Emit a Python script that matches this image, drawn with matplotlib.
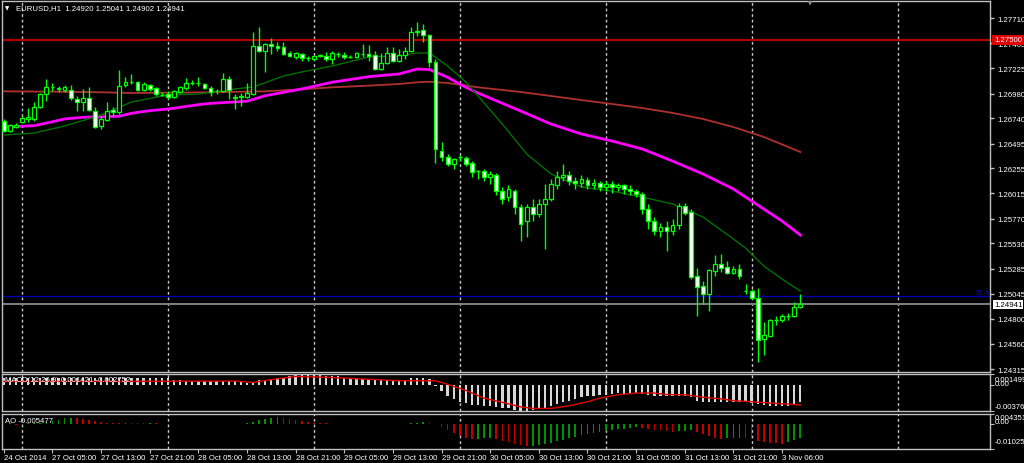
import matplotlib
matplotlib.use("Agg")
import matplotlib.pyplot as plt
import matplotlib.transforms as mtrans
import numpy as np

# ---------------- data ----------------
opens = [1.26714,1.26617,1.26657,1.26704,1.26734,1.26734,1.26850,1.26975,1.27039,1.27034,
         1.27014,1.27014,1.26927,1.26898,1.26937,1.26810,1.26666,1.26724,1.26820,1.26801,
         1.27062,1.27091,1.27091,1.27014,1.27062,1.27034,1.26966,1.26975,1.26946,1.26995,
         1.27034,1.27080,1.27082,1.27072,1.27034,1.27009,1.27004,1.27120,1.26946,1.26946,
         1.26946,1.26975,1.27440,1.27391,1.27459,1.27440,1.27430,1.27372,1.27333,1.27362,
         1.27323,1.27314,1.27345,1.27343,1.27314,1.27362,1.27352,1.27330,1.27333,1.27362,
         1.27362,1.27352,1.27217,1.27275,1.27372,1.27294,1.27352,1.27391,1.27575,1.27594,
         1.27546,1.27285,1.26424,1.26366,1.26298,1.26363,1.26356,1.26308,1.26231,1.26231,
         1.26173,1.26192,1.26037,1.25979,1.26037,1.25883,1.25747,1.25883,1.25815,1.25912,
         1.25960,1.26095,1.26173,1.26192,1.26134,1.26115,1.26144,1.26095,1.26115,1.26076,
         1.26105,1.26076,1.26095,1.26057,1.26037,1.26008,1.25863,1.25747,1.25651,1.25689,
         1.25651,1.25709,1.25893,1.25834,1.25215,1.25119,1.25041,1.25264,1.25332,1.25303,
         1.25244,1.25283,1.25070,1.25070,1.25003,1.24606,1.24635,1.24790,1.24790,1.24829,
         1.24829,1.24920]
highs = [1.26734,1.26685,1.26695,1.26762,1.26840,1.26898,1.26985,1.27120,1.27082,1.27053,
         1.27062,1.27062,1.26956,1.27024,1.27043,1.26850,1.26762,1.26898,1.26850,1.27207,
         1.27140,1.27169,1.27101,1.27091,1.27072,1.27043,1.26995,1.27004,1.27014,1.27053,
         1.27130,1.27111,1.27140,1.27082,1.27053,1.27024,1.27179,1.27149,1.26975,1.26985,
         1.27082,1.27575,1.27623,1.27469,1.27517,1.27478,1.27478,1.27391,1.27381,1.27372,
         1.27343,1.27346,1.27362,1.27381,1.27391,1.27381,1.27381,1.27352,1.27381,1.27459,
         1.27449,1.27391,1.27372,1.27430,1.27430,1.27411,1.27430,1.27623,1.27672,1.27652,
         1.27556,1.27314,1.26511,1.26395,1.26356,1.26385,1.26376,1.26327,1.26240,1.26250,
         1.26231,1.26211,1.26076,1.26095,1.26057,1.25912,1.25912,1.25960,1.25960,1.26105,
         1.26153,1.26231,1.26298,1.26231,1.26173,1.26192,1.26173,1.26153,1.26134,1.26134,
         1.26134,1.26115,1.26105,1.26095,1.26057,1.26028,1.25912,1.25786,1.25728,1.25747,
         1.25767,1.25921,1.25921,1.25863,1.25293,1.25167,1.25283,1.25419,1.25428,1.25361,
         1.25312,1.25332,1.25138,1.25090,1.25099,1.24770,1.24800,1.24829,1.24848,1.24858,
         1.24964,1.25041]
lows = [1.26607,1.26607,1.26647,1.26695,1.26704,1.26714,1.26840,1.26907,1.27004,1.26995,
        1.26995,1.26917,1.26810,1.26810,1.26810,1.26647,1.26637,1.26714,1.26762,1.26782,
        1.27043,1.27072,1.27004,1.27004,1.27004,1.26956,1.26956,1.26927,1.26937,1.26985,
        1.27014,1.27062,1.27053,1.27024,1.26956,1.26975,1.26995,1.26927,1.26830,1.26859,
        1.26937,1.26966,1.27381,1.27188,1.27362,1.27391,1.27352,1.27333,1.27314,1.27294,
        1.27294,1.27304,1.27333,1.27294,1.27266,1.27333,1.27314,1.27323,1.27323,1.27333,
        1.27294,1.27207,1.27207,1.27266,1.27285,1.27285,1.27314,1.27381,1.27536,1.27478,
        1.27237,1.26308,1.26327,1.26279,1.26250,1.26327,1.26279,1.26173,1.26153,1.26134,
        1.26105,1.25998,1.25912,1.25940,1.25815,1.25554,1.25593,1.25747,1.25786,1.25477,
        1.25940,1.26057,1.26134,1.26095,1.26057,1.26076,1.26057,1.26057,1.26037,1.26037,
        1.26018,1.26037,1.26008,1.25998,1.25979,1.25815,1.25670,1.25612,1.25593,1.25457,
        1.25612,1.25670,1.25805,1.25186,1.24829,1.24945,1.24877,1.25215,1.25254,1.25235,
        1.25235,1.25186,1.25041,1.24993,1.24384,1.24451,1.24626,1.24742,1.24770,1.24790,
        1.24819,1.24902]
closes = [1.26617,1.26675,1.26675,1.26744,1.26753,1.26850,1.26975,1.27044,1.27044,1.27024,
          1.27044,1.26937,1.26898,1.26937,1.26820,1.26656,1.26734,1.26810,1.26801,1.27053,
          1.27091,1.27096,1.27014,1.27072,1.27024,1.26975,1.26961,1.26946,1.27004,1.27043,
          1.27082,1.27085,1.27077,1.27034,1.26995,1.27004,1.27120,1.27014,1.26941,1.26956,
          1.26985,1.27440,1.27391,1.27459,1.27440,1.27420,1.27362,1.27343,1.27372,1.27323,
          1.27320,1.27343,1.27350,1.27314,1.27372,1.27360,1.27333,1.27332,1.27372,1.27365,
          1.27343,1.27217,1.27275,1.27372,1.27294,1.27352,1.27391,1.27575,1.27585,1.27546,
          1.27285,1.26444,1.26366,1.26298,1.26347,1.26360,1.26298,1.26221,1.26228,1.26173,
          1.26202,1.26037,1.25960,1.26057,1.25883,1.25718,1.25883,1.25815,1.25912,1.25960,
          1.26105,1.26173,1.26192,1.26134,1.26115,1.26153,1.26095,1.26115,1.26076,1.26105,
          1.26076,1.26095,1.26057,1.26037,1.26008,1.25863,1.25747,1.25651,1.25689,1.25651,
          1.25709,1.25893,1.25825,1.25206,1.25109,1.25041,1.25273,1.25332,1.25293,1.25244,
          1.25283,1.25215,1.25066,1.25003,1.24597,1.24645,1.24790,1.24787,1.24829,1.24826,
          1.24916,1.24941]

# moving averages (bar index, value)
ma_fast_idx = [0,5,10,16,21,27,32,38,41,46,49,54,60,65,68,70,73,76,78,82,86,90,95,100,105,110,115,120,122,125,128,131]
ma_fast_val = [1.26579,1.26598,1.26666,1.26772,1.26898,1.26966,1.26975,1.27024,1.27043,1.27149,1.27188,1.27246,
               1.27333,1.27343,1.27372,1.27372,1.27246,1.27091,1.26956,1.26685,1.26395,1.26202,1.26076,1.26037,
               1.25979,1.25912,1.25786,1.25573,1.25486,1.25312,1.25186,1.25070]
ma_mid_idx = [0,5,8,10,13,19,21,24,27,32,34,40,43,49,54,60,65,68,70,71,73,76,78,85,90,95,100,105,110,115,120,125,128,131]
ma_mid_val = [1.26656,1.26669,1.26707,1.26734,1.26750,1.26760,1.26789,1.26814,1.26830,1.26872,1.26885,1.26905,
              1.26959,1.27024,1.27089,1.27143,1.27169,1.27217,1.27212,1.27188,1.27137,1.27040,1.26985,1.26811,
              1.26685,1.26589,1.26521,1.26444,1.26327,1.26202,1.26057,1.25863,1.25747,1.25612]
ma_slow_idx = [0,8,16,21,27,34,43,49,54,60,65,68,70,73,78,85,90,95,100,105,110,115,120,125,131]
ma_slow_val = [1.27001,1.26998,1.26992,1.26985,1.26988,1.26992,1.27001,1.27021,1.27040,1.27056,1.27072,1.27089,
               1.27094,1.27082,1.27040,1.26995,1.26956,1.26917,1.26879,1.26840,1.26792,1.26734,1.26656,1.26560,1.26415]

macd_hist = [0.0009,0.0009,0.0009,0.0009,0.0009,0.0009,0.0010,0.0010,0.0010,0.0010,
             0.0010,0.0010,0.0010,0.0010,0.0009,0.0009,0.0009,0.0009,0.0009,0.0009,
             0.0009,0.0009,0.0009,0.0009,0.0009,0.0009,0.0009,0.0009,0.0006,0.0006,
             0.0005,0.0005,0.0005,0.0005,0.0005,0.0005,0.0005,0.0005,0.0005,0.0003,
             0.0002,0.0002,0.0006,0.0007,0.0008,0.0009,0.0009,0.0012,0.0013,0.0013,
             0.0013,0.0013,0.0013,0.0012,0.0012,0.0012,0.0010,0.0009,0.0008,0.0008,
             0.0007,0.0006,0.0006,0.0007,0.0007,0.0006,0.00063,0.00088,0.00088,0.00098,
             0.00073,-0.00019,-0.00098,-0.00156,-0.00204,-0.00253,-0.00267,-0.00288,-0.00292,-0.00302,
             -0.00311,-0.00326,-0.00340,-0.00340,-0.00361,-0.00375,-0.00375,-0.00361,-0.00350,-0.00340,
             -0.00311,-0.00277,-0.00244,-0.00229,-0.00204,-0.00180,-0.00165,-0.00156,-0.00146,-0.00146,
             -0.00131,-0.00117,-0.00131,-0.00117,-0.00117,-0.00131,-0.00146,-0.00156,-0.00165,-0.00165,
             -0.00165,-0.00156,-0.00156,-0.00180,-0.00229,-0.00253,-0.00253,-0.00244,-0.00253,-0.00253,
             -0.00244,-0.00244,-0.00253,-0.00263,-0.00277,-0.00292,-0.00302,-0.00302,-0.00311,-0.00302,
             -0.00292,-0.00253]
macd_sig_idx = [0,20,38,41,44,48,54,60,65,71,72,76,79,82,85,87,90,93,96,98,101,104,107,109,112,115,118,120,123,126,129,131]
macd_sig_val = [0.00045,0.00045,0.00050,0.00030,0.00070,0.00115,0.00100,0.00075,0.00054,0.00054,0.00030,-0.00083,
                -0.00194,-0.00253,-0.00317,-0.00340,-0.00340,-0.00302,-0.00244,-0.00194,-0.00146,-0.00121,-0.00121,
                -0.00142,-0.00146,-0.00180,-0.00204,-0.00229,-0.00244,-0.00263,-0.00277,-0.00292]

ao_vals = [0.0003,0.0004,-0.0002,0.0003,0.0005,0.0006,0.0008,0.0010,0.0014,0.0020,
           0.0025,0.0028,0.0027,0.0024,0.0020,0.0016,0.0012,0.0008,0.0006,0.0005,
           0.0007,0.0006,0.0005,0.0004,0.0006,0.0004,0.0003,0.0002,0.0003,0.0002,
           0.0003,0.0002,0.0003,0.0002,0.0003,0.0002,0.0003,0.0002,0.0001,0.0002,
           0.0004,0.0010,0.0018,0.0024,0.0027,0.0030,0.0028,0.0024,0.0020,0.0016,
           0.0012,0.0008,0.0006,0.0004,0.0003,0.0002,0.0003,0.0002,0.0003,0.0002,
           0.0001,0.0002,0.0001,0.0002,0.0003,0.0002,0.0003,0.0005,0.0008,0.0010,
           0.0008,0.0001,-0.0010,-0.0022,-0.0035,-0.0048,-0.0058,-0.0062,-0.0060,-0.0058,
           -0.0057,-0.0062,-0.0068,-0.0074,-0.0080,-0.0086,-0.0090,-0.0088,-0.0084,-0.0080,
           -0.0076,-0.0070,-0.0064,-0.0058,-0.0052,-0.0046,-0.0040,-0.0036,-0.0032,-0.0028,
           -0.0024,-0.0020,-0.0017,-0.0014,-0.0012,-0.0015,-0.0019,-0.0022,-0.0025,-0.0028,
           -0.0030,-0.0028,-0.0026,-0.0025,-0.0032,-0.0040,-0.0048,-0.0055,-0.0060,-0.0058,
           -0.0056,-0.0055,-0.0058,-0.0062,-0.0068,-0.0073,-0.0076,-0.0078,-0.0080,-0.0072,
           -0.0063,-0.005477]

price_ticks = [1.27710,1.27465,1.27225,1.26980,1.26740,1.26495,1.26255,1.26015,1.25770,1.25530,1.25285,1.25045,1.24800,1.24560,1.24315]
time_tick_bars = [0,8,16,24,32,40,48,56,64,72,80,88,96,104,112,120,128]
time_tick_labels = ["24 Oct 2014","27 Oct 05:00","27 Oct 13:00","27 Oct 21:00","28 Oct 05:00","28 Oct 13:00",
                    "28 Oct 21:00","29 Oct 05:00","29 Oct 13:00","29 Oct 21:00","30 Oct 05:00","30 Oct 13:00",
                    "30 Oct 21:00","31 Oct 05:00","31 Oct 13:00","31 Oct 21:00","3 Nov 06:00"]
grid_bars = [3,27,51,75,99,123,147]
level_price = 1.27500
fib_price = 1.25022
bid_price = 1.24941
title_text = "EURUSD,H1  1.24920 1.25041 1.24902 1.24941"
macd_label = "MACD(12,26,9) 0.001421 -0.002752"
ao_label = "AO -0.005477"
macd_range = (-0.003763, 0.001499)
ao_range = (-0.010252, 0.004351)
macd_scale_labels = ["0.001499", "0.00", "-0.003763"]
ao_scale_labels = ["0.004351", "0.00", "-0.010252"]

# ---------------- layout ----------------
W, H = 1024, 464
FONT = "Liberation Sans"
FS = 5.6
fig = plt.figure(figsize=(W/100, H/100), dpi=100, facecolor="black")

def px_axes(l, t, r, b):
    ax = fig.add_axes([l/W, 1-b/H, (r-l)/W, (b-t)/H])
    ax.set_facecolor("black")
    for s in ax.spines.values():
        s.set_color("#c0c0c0")
        s.set_linewidth(1)
    return ax

def fy(ypx):
    return 1 - ypx/H

PX = 6.08      # pixels per bar
X0 = 3.8       # pixel position of bar 0
L, R = 2, 990
xlim = ((L - X0)/PX, (R - X0)/PX)

ax = px_axes(L, 2, R, 373)
axm = px_axes(L, 375, R, 412)
axa = px_axes(L, 415, R, 450)

for a in (ax, axm, axa):
    a.set_xlim(*xlim)
    for gb in grid_bars:
        a.axvline(gb, color="#c8c8c8", lw=1, ls=(0, (2, 2)), zorder=1)

# main price panel
ytop = 1.27894 - 2*0.0000967
ybot = 1.27894 - 373*0.0000967
ax.set_ylim(ybot, ytop)

x = np.arange(len(opens))
o = np.array(opens); h = np.array(highs); l = np.array(lows); c = np.array(closes)

ax.axhline(level_price, color="#b00000", lw=1.6, zorder=2)
ax.axhline(fib_price, color="#0000b0", lw=1, zorder=2)
ax.axhline(bid_price, color="#808080", lw=1.4, zorder=2)

ax.plot(ma_slow_idx, ma_slow_val, color="#b03030", lw=1.3, zorder=3)
ax.plot(ma_mid_idx, ma_mid_val, color="#ff00ff", lw=2.0, zorder=3)
ax.plot(ma_fast_idx, ma_fast_val, color="#007000", lw=1.0, zorder=3)

ax.vlines(x, l, h, color="#00ff00", lw=1, zorder=4)
bw = 0.62
for i in range(len(x)):
    bull = c[i] >= o[i]
    fill = "black" if bull else "white"
    lo, hi = min(o[i], c[i]), max(o[i], c[i])
    if hi - lo < 0.00003:
        ax.hlines((lo+hi)/2, x[i]-bw/2, x[i]+bw/2, color="#00ff00", lw=1, zorder=5)
    else:
        ax.bar(x[i], hi-lo, bottom=lo, width=bw, color=fill, edgecolor="#00ff00", lw=0.9, zorder=5)

ax.yaxis.tick_right()
ax.set_yticks(price_ticks)
ax.set_yticklabels([f"{p:.5f}" for p in price_ticks])
ax.tick_params(axis="y", colors="#c0c0c0", length=3, width=1, pad=2, labelsize=FS, labelcolor="white")
ax.set_xticks([])
for t in ax.get_yticklabels():
    t.set_fontfamily(FONT)

trans = mtrans.blended_transform_factory(ax.transAxes, ax.transData)
ax.text(1.004, level_price, "1.27500", transform=trans, fontsize=FS, family=FONT, color="white",
        va="center", ha="left", bbox=dict(boxstyle="square,pad=0.2", fc="#e00000", ec="none"), zorder=10, clip_on=False)
ax.text(1.004, bid_price, "1.24941", transform=trans, fontsize=FS, family=FONT, color="black",
        va="center", ha="left", bbox=dict(boxstyle="square,pad=0.15", fc="white", ec="none"), zorder=10, clip_on=False)
ax.text(0.9995, fib_price, "76.4", transform=trans, fontsize=FS, family=FONT, color="#0000e0",
        va="bottom", ha="right", zorder=10)

fig.text(5/W, fy(9), "\u25BC", fontsize=4, color="white", va="center", ha="left", family="DejaVu Sans")
fig.text(16/W, fy(9), title_text, fontsize=FS, family=FONT, color="white", va="center", ha="left")
fig.text(810/W, fy(4), "\u25BC", fontsize=4, color="#909090", va="center", ha="center", family="DejaVu Sans")

def scale_labels(a, rng, labels, ypos):
    a.yaxis.tick_right()
    a.set_yticks([rng[1], 0.0, rng[0]])
    a.set_yticklabels(["", "", ""])
    a.tick_params(axis="y", colors="#c0c0c0", length=3, pad=2)
    for lab, yp in zip(labels, ypos):
        fig.text(995/W, fy(yp), lab, fontsize=FS, family=FONT, color="white", va="center", ha="left")

# MACD panel
axm.set_ylim(*macd_range)
axm.bar(x, macd_hist, width=0.38, color="#d8d8d8", zorder=3)
axm.plot(macd_sig_idx, macd_sig_val, color="#e00000", lw=1, zorder=4)
axm.set_xticks([])
scale_labels(axm, macd_range, macd_scale_labels, [380, 384.5, 408])
fig.text(5/W, fy(381), macd_label, fontsize=FS, family=FONT, color="white", va="center", ha="left", zorder=6)

# AO panel
axa.set_ylim(*ao_range)
ao = np.array(ao_vals)
cols = ["#009000" if i == 0 or ao[i] >= ao[i-1] else "#c00000" for i in range(len(ao))]
axa.bar(x, ao, width=0.28, color=cols, zorder=3)
scale_labels(axa, ao_range, ao_scale_labels, [419, 422.5, 443])
fig.text(5/W, fy(422), ao_label, fontsize=FS, family=FONT, color="white", va="center", ha="left", zorder=6)

axa.set_xticks(time_tick_bars)
axa.set_xticklabels(time_tick_labels)
axa.tick_params(axis="x", colors="#c0c0c0", length=3, pad=0.8, labelsize=FS, labelcolor="white")
for t in axa.get_xticklabels():
    t.set_ha("left")
    t.set_fontfamily(FONT)

fig.savefig("out.png", dpi=100, facecolor="black")
